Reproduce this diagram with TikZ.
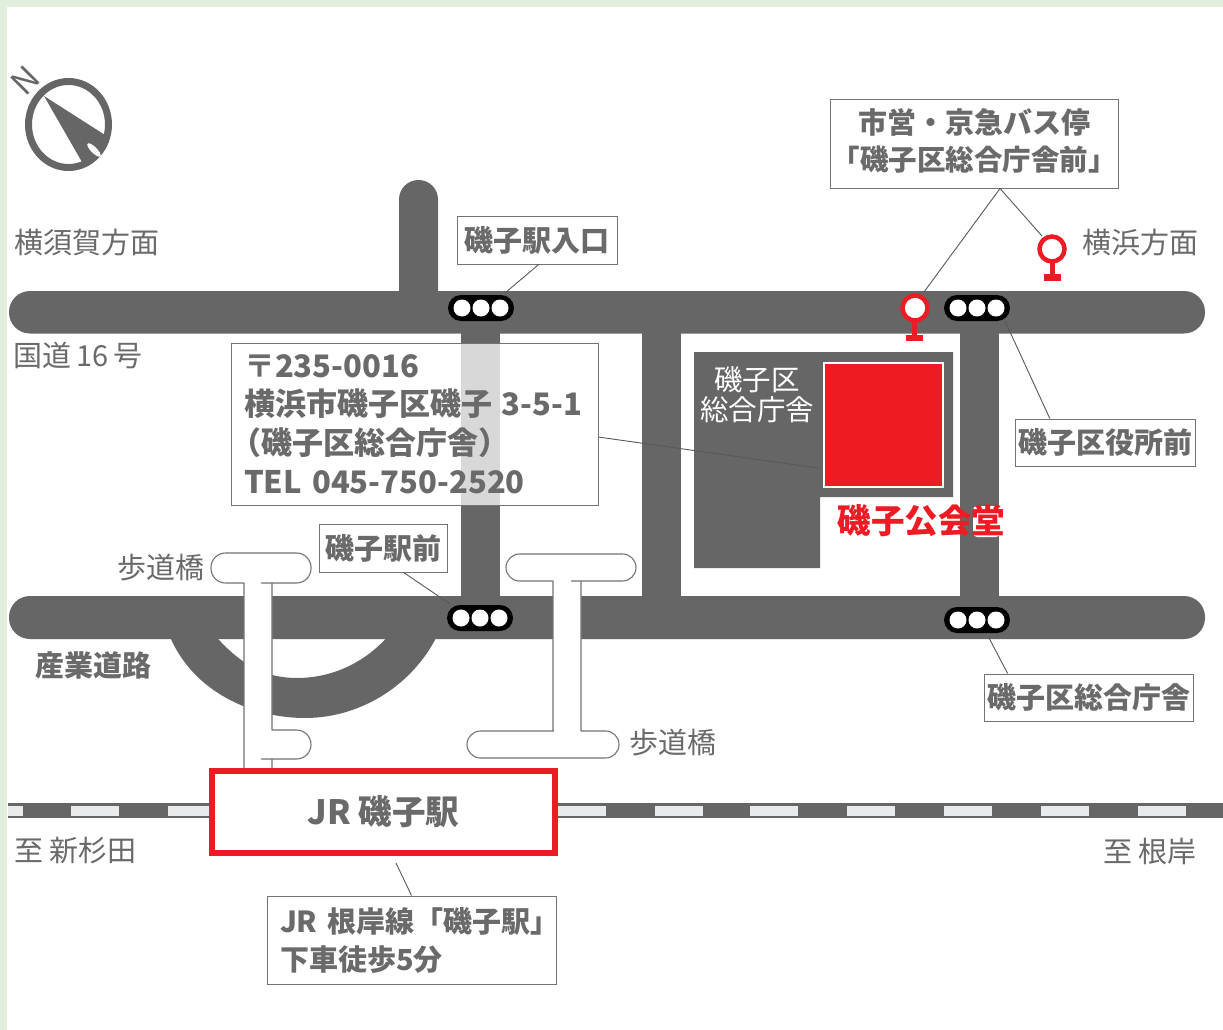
\documentclass[tikz,border=0pt]{standalone}
\usepackage{fontspec}
\setmainfont{Noto Sans CJK JP}
\usetikzlibrary{shapes.misc,calc}
\definecolor{road}{HTML}{666666}
\definecolor{txt}{HTML}{6A6A6A}
\definecolor{rd}{HTML}{ED1C24}
\definecolor{pale}{HTML}{E2EEDC}
\definecolor{rail}{HTML}{E8EAEE}
\tikzset{
  roadfill/.style={fill=road,draw=none},
  bridge/.style={fill=white,draw=black!55,line width=1.1pt,line join=round},
  lbl/.style={inner sep=0pt,text=txt,font=\fontsize{29}{35}\selectfont,align=center},
  callout/.style={draw=black!55,line width=1pt,fill=white,inner sep=0pt,text=txt,align=center,font=\fontsize{29}{38}\selectfont\bfseries},
  leader/.style={draw=black!65,line width=.9pt},
  sigbody/.style={rounded rectangle,fill=black,minimum width=66pt,minimum height=26pt,inner sep=0pt},
  lamp/.style={circle,fill=white,minimum size=17pt,inner sep=0pt},
  stopring/.style={circle,draw=rd,line width=4.5pt,minimum size=25pt,inner sep=0pt},
}
\newcommand{\signal}[2]{%
  \node[sigbody] (#1) at (#2) {};
  \node[lamp,xshift=-19pt] (#1a) at (#2) {};
  \node[lamp] (#1b) at (#2) {};
  \node[lamp,xshift=19pt] (#1c) at (#2) {};}
\begin{document}
\begin{tikzpicture}[x=1pt,y=-1pt]
\useasboundingbox (0,0) rectangle (1223,1030);
\fill[white] (0,0) rectangle (1223,1030);
\fill[pale] (0,0) rectangle (1223,7);
\fill[pale] (0,0) rectangle (7,1030);
% roads
\fill[roadfill,rounded corners=19.4pt] (399,310) -- (399,180) -- (438,180) -- (438,310) -- cycle;
\fill[roadfill] (461,320) rectangle (500,610);
\fill[roadfill] (642,320) rectangle (681,610);
\fill[roadfill] (960,320) rectangle (999,610);
\fill[roadfill,rounded corners=21pt] (9,291) rectangle (1205,333.5);
\fill[roadfill,rounded corners=21pt] (9,596) rectangle (1205,639);
\fill[roadfill] (168,632) .. controls (190,690) and (250,718) .. (305,718)
  .. controls (365,718) and (420,680) .. (442,625) -- (393,630)
  .. controls (370,660) and (335,678) .. (297,678)
  .. controls (265,678) and (240,665) .. (212,632) -- cycle;
% building
\fill[roadfill] (694,352) -- (953,352) -- (953,497) -- (820,497) -- (820,568) -- (694,568) -- cycle;
\filldraw[fill=rd,draw=white,line width=2.5pt] (824,363) rectangle (943,487);
\node[lbl,text=white,font=\fontsize{28.5}{30}\selectfont] (kucho) at (757,395) {磯子区\\総合庁舎};
\fill[white,rounded corners=4pt] (973,506) rectangle (1000,537);
\node[lbl,text=rd,font=\fontsize{33.5}{40}\selectfont\bfseries] (hall) at (921.5,521) {磯子公会堂};
% footbridges
\draw[bridge] (244,772) -- (244,583) -- (240,583) [rounded corners=14.5pt] -- (211,583) -- (211,553) -- (311,553) -- (311,583) -- (276,583) [sharp corners] -- (272,583) -- (272,730) -- (276,730) [rounded corners=14.5pt] -- (311,730) -- (311,759) -- (276,759) [sharp corners] -- (272,759) -- (272,772);
\draw[bridge] (553,731) -- (553,581) -- (549,581) [rounded corners=13.5pt] -- (506,581) -- (506,554) -- (636,554) -- (636,581) -- (585,581) [sharp corners] -- (581,581) -- (581,731) -- (585,731) [rounded corners=13.5pt] -- (619,731) -- (619,758) -- (467,758) -- (467,731) -- (549,731) [sharp corners] -- (553,731);
\fill[white] (554,726) rectangle (580,733);
% rail
\fill[road] (8,803) rectangle (1223,818);
\fill[rail] (8,806) rectangle (23,815.5);
\foreach \r in {71,168,558,655,750,847,944,1041,1138}
  \fill[rail] (\r,806) rectangle (\r+48,815.5);
% signals
\signal{sigA}{481,308}
\signal{sigB}{480,618}
\signal{sigC}{977,308}
\signal{sigD}{977,620}
% bus stops
\fill[rd] (1049.5,262) rectangle (1054.5,276);
\fill[rd] (1044,274) rectangle (1061,281);
\node[stopring] (stopA) at (1052,249) {};
\fill[rd] (912,320) rectangle (917,337);
\fill[rd] (906,335) rectangle (923,341);
\node[stopring,fill=white] (stopB) at (915,308) {};
% callouts
\node[callout,minimum width=288pt,minimum height=88pt] (busbox) at (974,144) {市営・京急バス停\\[-1pt]{\fontsize{28.5}{38}\selectfont「磯子区総合庁舎前」}\rule[-8pt]{0pt}{8pt}};
\node[callout,minimum width=160pt,minimum height=48pt] (iriguchi) at (537,240) {磯子駅入口};
\node[callout,minimum width=180pt,minimum height=47pt] (yakusho) at (1105,442.5) {磯子区役所前};
\node[callout,minimum width=209pt,minimum height=47pt] (sogo) at (1088.5,697.5) {磯子区総合庁舎};
\node[callout,minimum width=128pt,minimum height=48pt] (ekimae) at (383,548) {磯子駅前};
\node[callout,fill opacity=.75,text opacity=1,text width=341pt,inner xsep=13pt,minimum height=162pt,align=left,font=\fontsize{31}{38.6}\selectfont\bfseries] (addr) at (414.5,424) {〒235-0016\\\mbox{横浜市磯子区磯子\hspace{10pt}3-5-1}\\\hspace*{-14pt}（磯子区総合庁舎）\\TEL 045-750-2520};
\node[callout,text width=263pt,inner xsep=13pt,minimum height=88pt,align=left] (jrbox) at (411.5,940) {\mbox{JR 根岸線「磯子駅」}\\下車徒歩5分};
% station
\node[draw=rd,line width=6pt,fill=white,minimum width=343pt,minimum height=82pt,inner sep=0pt,text=txt,font=\fontsize{33.5}{40}\selectfont\bfseries] (station) at (383.5,812) {JR 磯子駅};
% leaders
\coordinate (busfoot) at ($(busbox.south west)!.59!(busbox.south east)$);
\coordinate (busA) at (1042,236);
\coordinate (busB) at (924,292);
\draw[leader] (busB) -- (busfoot) -- (busA);
\coordinate (iriA) at ($(iriguchi.south west)!.51!(iriguchi.south east)$);
\coordinate (iriB) at (505,293);
\draw[leader] (iriA) -- (iriB);
\coordinate (yakuA) at ($(yakusho.north west)!.195!(yakusho.north east)$);
\coordinate (yakuB) at (1005,321);
\draw[leader] (yakuA) -- (yakuB);
\coordinate (sogoA) at ($(sogo.north west)!.115!(sogo.north east)$);
\coordinate (sogoB) at (989,638);
\draw[leader] (sogoA) -- (sogoB);
\coordinate (ekiA) at ($(ekimae.south west)!.66!(ekimae.south east)$);
\coordinate (ekiB) at (450,604);
\draw[leader] (ekiA) -- (ekiB);
\coordinate (addrA) at ($(addr.north east)!.58!(addr.south east)$);
\coordinate (addrB) at (818,468);
\draw[leader] (addrA) -- (addrB);
\coordinate (jrA) at ($(jrbox.north west)!.5!(jrbox.north east)$);
\coordinate (jrB) at (396,863);
\draw[leader] (jrA) -- (jrB);
% plain labels
\node[lbl,anchor=west] (yokosuka) at (14,242) {横須賀方面};
\node[lbl,anchor=west] (yokohama) at (1082,242) {横浜方面};
\node[lbl,anchor=west] (route16) at (13,356) {国道\hspace{5pt}16\hspace{5pt}号};
\node[lbl,anchor=east] (hodoA) at (205,568) {歩道橋};
\node[lbl,anchor=west] (hodoB) at (629,743) {歩道橋};
\node[lbl,anchor=west,font=\fontsize{29}{35}\selectfont\bfseries] (sangyo) at (35,665) {産業道路};
\node[lbl,anchor=west] (shin) at (14,851) {至 新杉田};
\node[lbl,anchor=east] (negishi) at (1197,851) {至 根岸};
% compass
\draw[road,line width=7pt] (68.5,124.5) ellipse (40 and 43);
\fill[road] (44,96) -- (105,135) .. controls (100,148) and (92,158) .. (82,162) -- cycle;
\fill[white,rotate around={-45:(94,150)}] (94,150) ellipse (9 and 3);
\node[text=road,font=\fontsize{33}{33}\selectfont,rotate=45,inner sep=0pt] (north) at (25,81) {N};
\end{tikzpicture}
\end{document}
